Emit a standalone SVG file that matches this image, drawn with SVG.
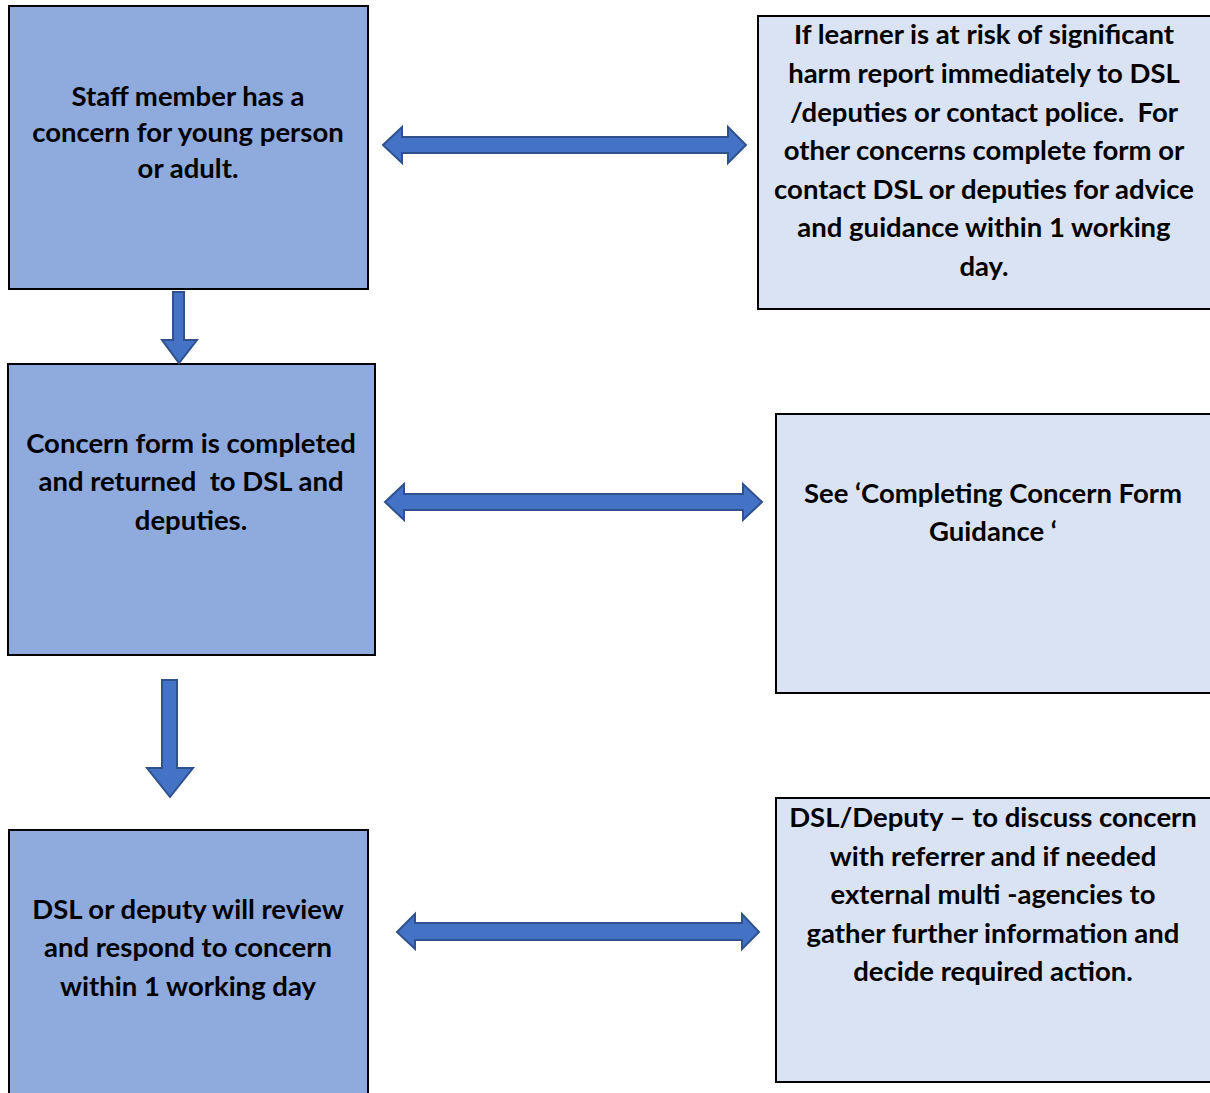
<svg xmlns="http://www.w3.org/2000/svg" width="1210" height="1093" viewBox="0 0 1210 1093">
<style>
.dark{fill:#8FAADC;stroke:#000;stroke-width:2}
.light{fill:#DAE3F3;stroke:#000;stroke-width:2}
.arr{fill:#4472C4;stroke:#2F528F;stroke-width:2;stroke-linejoin:miter}
text{font-family:Lato,"Open Sans",sans-serif;font-weight:bold;font-size:27.5px;fill:#000;text-anchor:middle;white-space:pre}
</style>
<rect width="1210" height="1093" fill="#fff"/>
<g id="n1"><rect class="dark" x="9" y="6" width="359" height="283"/>
<text x="188" y="106">Staff member has a</text><text x="188" y="142">concern for young person</text><text x="188" y="178">or adult.</text></g>
<g id="n2"><rect class="light" x="758" y="16" width="460" height="293"/>
<text x="984" y="44">If learner is at risk of significant</text><text x="984" y="83">harm report immediately to DSL</text><text x="984" y="122" xml:space="preserve">/deputies or contact police.  For</text><text x="984" y="160">other concerns complete form or</text><text x="984" y="199">contact DSL or deputies for advice</text><text x="984" y="237">and guidance within 1 working</text><text x="984" y="276">day.</text></g>
<g id="n3"><rect class="dark" x="8" y="364" width="367" height="291"/>
<text x="191" y="453">Concern form is completed</text><text x="191" y="491" xml:space="preserve">and returned  to DSL and</text><text x="191" y="530">deputies.</text></g>
<g id="n4"><rect class="light" x="776" y="414" width="442" height="279"/>
<text x="993" y="503">See ‘Completing Concern Form</text><text x="993" y="541">Guidance ‘</text></g>
<g id="n5"><rect class="dark" x="9" y="830" width="359" height="270"/>
<text x="188" y="919">DSL or deputy will review</text><text x="188" y="957">and respond to concern</text><text x="188" y="996">within 1 working day</text></g>
<g id="n6"><rect class="light" x="776" y="798" width="442" height="284"/>
<text x="993" y="827">DSL/Deputy – to discuss concern</text><text x="993" y="866">with referrer and if needed</text><text x="993" y="904">external multi -agencies to</text><text x="993" y="943">gather further information and</text><text x="993" y="981">decide required action.</text></g>
<g id="connectors">
<polygon class="arr" points="383,145 402,127 402,137 728,137 728,127 746,145 728,163 728,153 402,153 402,163"/>
<polygon class="arr" points="385,502 404,484 404,494 743,494 743,484 762,502 743,520 743,510 404,510 404,520"/>
<polygon class="arr" points="397,932 415,914 415,923 742,923 742,914 759,932 742,949 742,940 415,940 415,949"/>
<polygon class="arr" points="173,292 184,292 184,340 197,340 179,363 162,340 173,340"/>
<polygon class="arr" points="162,680 177,680 177,768 193,768 170,797 147,768 162,768"/>
</g>
</svg>
